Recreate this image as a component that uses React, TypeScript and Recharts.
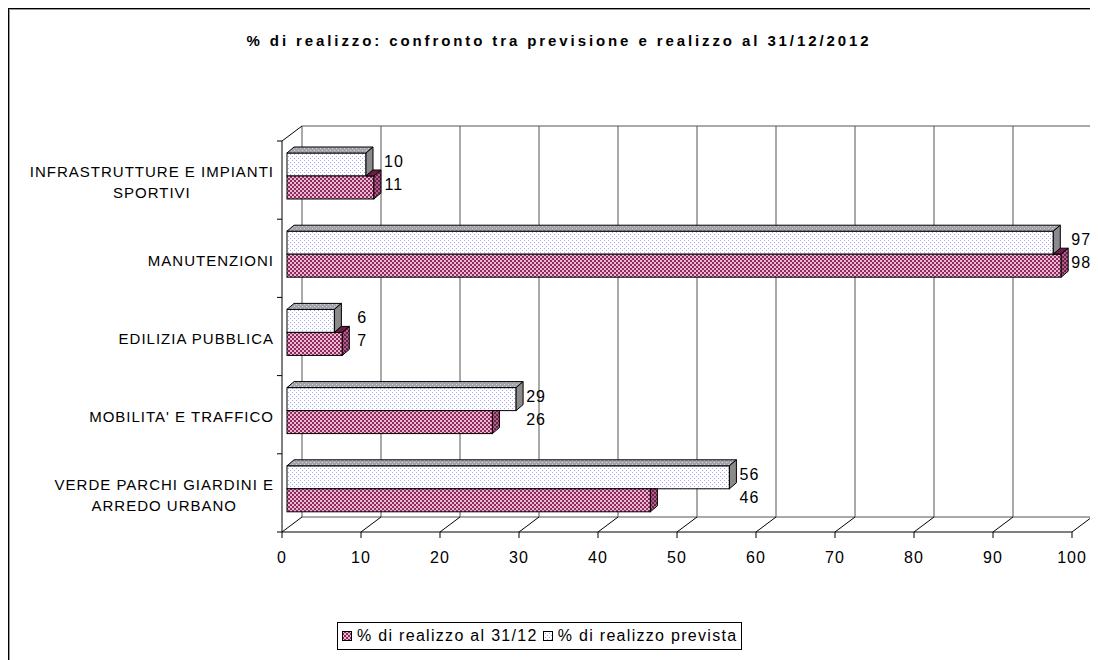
import React from 'react';
import { BarChart, Bar, XAxis, YAxis, CartesianGrid, LabelList } from 'recharts';

const categories = [
  'INFRASTRUTTURE E IMPIANTI\nSPORTIVI',
  'MANUTENZIONI',
  'EDILIZIA PUBBLICA',
  "MOBILITA' E TRAFFICO",
  'VERDE PARCHI GIARDINI E\nARREDO URBANO',
];
const realizzo = [11, 98, 7, 26, 46];
const prevista = [10, 97, 6, 29, 56];
const xTicks = [0, 10, 20, 30, 40, 50, 60, 70, 80, 90, 100];
const realizzoName = '% di realizzo al 31/12';
const previstaName = '% di realizzo prevista';
const title = '% di realizzo: confronto tra previsione e realizzo al 31/12/2012';

const data = categories.map((name, i) => ({ name, realizzo: realizzo[i], prevista: prevista[i] }));

const FRAME_W = 1082;
const WIDTH = 1098;
const HEIGHT = 652;
const PLOT_H = 391;
const BAND = PLOT_H / categories.length;
// 3d offsets: bar depth, front plane, back wall
const DX = 7, DY = 6;
const FX = -5, FY = 4;
const BX = 15, BY = -11;

const FONT = '"Liberation Sans", Arial, sans-serif';
const txt = { fontFamily: FONT, fontSize: 15, letterSpacing: 1, fill: '#000' };

const css = `
html, body { overflow: hidden; }
.recharts-wrapper, .recharts-surface { overflow: visible !important; }
.recharts-cartesian-grid { transform: translate(${BX}px, ${BY}px); }
.recharts-cartesian-axis-line { transform: translate(${FX}px, ${FY}px); }
`;

function Patterns() {
  return (
    <svg width={0} height={0} style={{ position: 'absolute' }}>
      <defs>
        <pattern id="pvFront" width={4} height={4} patternUnits="userSpaceOnUse">
          <rect width={4} height={4} fill="#fff" />
          <rect x={0} y={0} width={1} height={1} fill="#a8a8f0" />
          <rect x={2} y={2} width={1} height={1} fill="#a8a8f0" />
        </pattern>
        <pattern id="pvTop" width={4} height={4} patternUnits="userSpaceOnUse">
          <rect width={4} height={4} fill="#a4a4a8" />
          <rect x={0} y={0} width={1} height={1} fill="#d0d0ec" />
          <rect x={2} y={2} width={1} height={1} fill="#d0d0ec" />
        </pattern>
        <pattern id="reFront" width={4} height={4} patternUnits="userSpaceOnUse">
          <rect width={4} height={4} fill="#8e2a5c" />
          <rect x={0} y={0} width={2} height={2} fill="#eab8d2" />
          <rect x={2} y={2} width={2} height={2} fill="#eab8d2" />
        </pattern>
        <pattern id="reSide" width={4} height={4} patternUnits="userSpaceOnUse">
          <rect width={4} height={4} fill="#6e1f48" />
          <rect x={0} y={0} width={2} height={2} fill="#b0608a" />
          <rect x={2} y={2} width={2} height={2} fill="#b0608a" />
        </pattern>
      </defs>
    </svg>
  );
}

function PrevistaBar(props: any) {
  const { x, y, width: w, height: h } = props;
  return (
    <g stroke="#000" strokeWidth={1}>
      <rect x={x} y={y} width={w} height={h} fill="url(#pvFront)" />
      <polygon points={`${x},${y} ${x + DX},${y - DY} ${x + w + DX},${y - DY} ${x + w},${y}`} fill="url(#pvTop)" />
      <polygon points={`${x + w},${y} ${x + w + DX},${y - DY} ${x + w + DX},${y + h - DY} ${x + w},${y + h}`} fill="#8a8a8a" />
    </g>
  );
}

function RealizzoBar(props: any) {
  const { x, y, width: w, height: h, index } = props;
  // part hidden behind the prevista bar sitting on top of it
  const wp = (w * prevista[index]) / realizzo[index];
  const showTop = w > wp;
  const side = showTop
    ? `${x + w},${y} ${x + w + DX},${y - DY} ${x + w + DX},${y + h - DY} ${x + w},${y + h}`
    : `${x + w},${y} ${x + w + DX},${y} ${x + w + DX},${y + h - DY} ${x + w},${y + h}`;
  return (
    <g stroke="#000" strokeWidth={1}>
      <rect x={x} y={y} width={w} height={h} fill="url(#reFront)" />
      {showTop && (
        <polygon points={`${x + wp},${y} ${x + wp + DX},${y - DY} ${x + w + DX},${y - DY} ${x + w},${y}`} fill="#6a1c44" />
      )}
      <polygon points={side} fill="url(#reSide)" />
    </g>
  );
}

const valueLabel = (own: number[], other: number[]) => (props: any) => {
  const { x, y, width, height, index, value } = props;
  const end = x + (width * Math.max(own[index], other[index])) / own[index];
  return (
    <text x={end + 20} y={y + height / 2 - 3} textAnchor="middle" dominantBaseline="central" {...txt} fontSize={16}>
      {value}
    </text>
  );
};

function FloorTick(props: any) {
  const { x, y, payload } = props;
  return (
    <g>
      <line x1={x + FX} y1={y + FY} x2={x + BX} y2={y + BY} stroke="#000" />
      <line x1={x + FX} y1={y + FY} x2={x + FX} y2={y + FY + 6} stroke="#000" />
      <text x={x + FX} y={y + FY + 31} textAnchor="middle" {...txt} fontSize={16}>
        {payload.value}
      </text>
    </g>
  );
}

function CategoryTick(props: any) {
  const { x, y, payload, index } = props;
  const top = y - BAND / 2;
  const bottom = y + BAND / 2;
  const lines = String(payload.value).split('\n');
  return (
    <g>
      <line x1={x + FX - 5} y1={top + FY} x2={x + FX} y2={top + FY} stroke="#000" />
      {index === categories.length - 1 && (
        <line x1={x + FX - 5} y1={bottom + FY} x2={x + FX} y2={bottom + FY} stroke="#000" />
      )}
      {index === 0 && <line x1={x + FX} y1={top + FY} x2={x + BX} y2={top + BY} stroke="#000" />}
      <foreignObject x={0} y={y + 6 - 40} width={x - 13} height={80}>
        <div style={{ height: '100%', display: 'flex', alignItems: 'center', justifyContent: 'flex-end' }}>
          <div style={{ textAlign: 'center', fontFamily: FONT, fontSize: 15, letterSpacing: 1, lineHeight: '21px', color: '#000' }}>
            {lines.map((l) => (
              <div key={l}>{l}</div>
            ))}
          </div>
        </div>
      </foreignObject>
    </g>
  );
}

function Swatch({ fill }: { fill: string }) {
  return (
    <svg width={10} height={10} style={{ display: 'block' }}>
      <rect x={0.5} y={0.5} width={9} height={9} fill={fill} stroke="#000" />
    </svg>
  );
}

export default function App() {
  return (
    <div style={{ position: 'relative', width: FRAME_W, height: HEIGHT, fontFamily: FONT }}>
      <style>{css}</style>
      <Patterns />
      <div
        style={{
          position: 'absolute', left: 0, top: 0, width: FRAME_W + 1, height: 700, boxSizing: 'border-box',
          border: '1px solid #000', boxShadow: 'inset 1px 1px 0 #999', pointerEvents: 'none',
        }}
      />
      <div
        style={{
          position: 'absolute', left: 10, top: 24, width: FRAME_W, textAlign: 'center',
          fontSize: 15, fontWeight: 'bold', letterSpacing: 2.9, lineHeight: '17px',
        }}
      >
        {title}
      </div>
      <BarChart
        width={WIDTH}
        height={HEIGHT}
        data={data}
        layout="vertical"
        margin={{ top: 129, right: 29, bottom: 92, left: 0 }}
        barSize={23}
        barGap={0}
      >
        <CartesianGrid
          stroke="#555"
          horizontalCoordinatesGenerator={(args: any) => [args.offset.top, args.offset.top + args.offset.height]}
        />
        <XAxis
          type="number"
          domain={[0, 100]}
          ticks={xTicks}
          interval={0}
          tickLine={false}
          tickSize={0}
          tickMargin={0}
          axisLine={{ stroke: '#000' }}
          height={40}
          tick={(p: any) => <FloorTick {...p} />}
        />
        <YAxis
          type="category"
          dataKey="name"
          width={279}
          interval={0}
          tickLine={false}
          tickSize={0}
          tickMargin={0}
          axisLine={{ stroke: '#000' }}
          tick={(p: any) => <CategoryTick {...p} />}
        />
        <Bar dataKey="prevista" name={previstaName} shape={PrevistaBar} isAnimationActive={false}>
          <LabelList dataKey="prevista" content={valueLabel(prevista, realizzo)} />
        </Bar>
        <Bar dataKey="realizzo" name={realizzoName} shape={RealizzoBar} isAnimationActive={false}>
          <LabelList dataKey="realizzo" content={valueLabel(realizzo, prevista)} />
        </Bar>
      </BarChart>
      <div
        style={{
          position: 'absolute', left: 329, top: 614, height: 26, border: '1px solid #000',
          display: 'flex', alignItems: 'center', gap: 5, padding: '0 4px', background: '#fff',
          fontSize: 16, letterSpacing: 1.3,
        }}
      >
        <Swatch fill="url(#reFront)" />
        <span>{realizzoName}</span>
        <Swatch fill="url(#pvFront)" />
        <span>{previstaName}</span>
      </div>
    </div>
  );
}
